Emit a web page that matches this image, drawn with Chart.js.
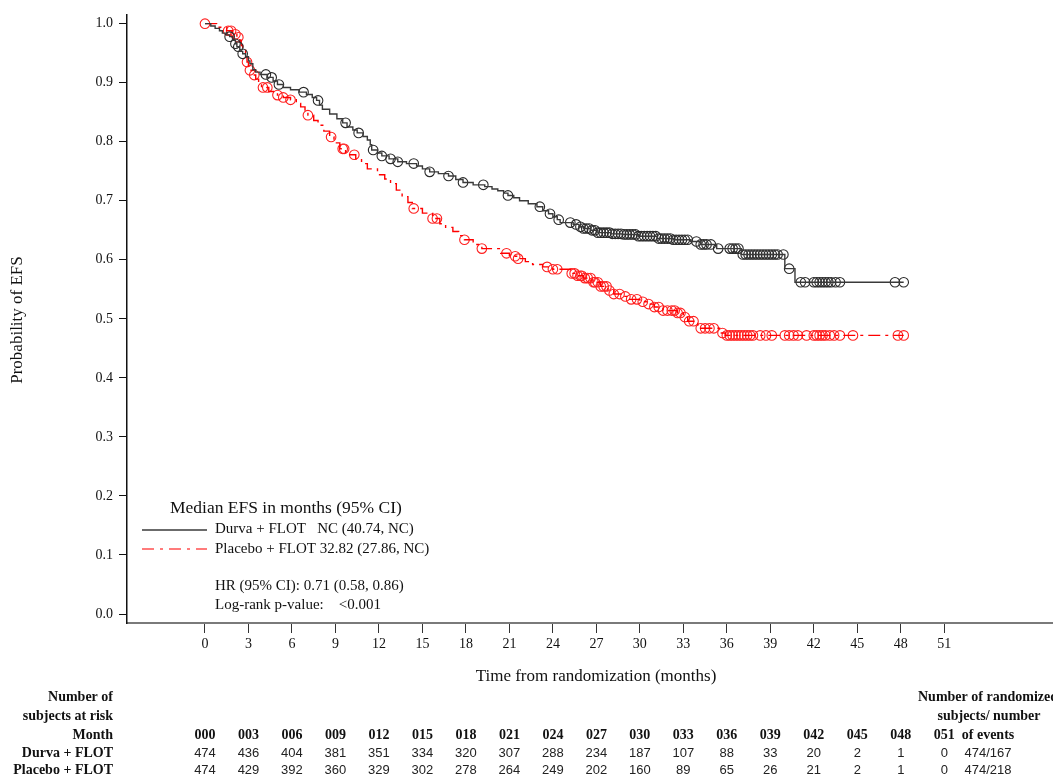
<!DOCTYPE html>
<html>
<head>
<meta charset="utf-8">
<title>EFS Kaplan-Meier</title>
<script src="https://cdn.jsdelivr.net/npm/chart.js@4.4.1/dist/chart.umd.min.js"></script>
<style>
  html, body { margin: 0; padding: 0; background: #fff; }
  #wrap { width: 1053px; height: 778px; }
</style>
</head>
<body>
<div id="wrap"><canvas id="efsChart" width="1053" height="778"></canvas></div>
<script>
// KM step points: month of event and survival after it
const durvaTimes = [0, 0.4, 0.7, 1.0, 1.2, 1.5, 1.7, 1.9, 2.1, 2.2, 2.4, 2.6, 2.8, 3.0, 3.1, 3.3, 3.5, 3.8, 4.3, 4.7,
  5.0, 5.4, 5.9, 6.5, 7.0, 7.4, 7.7, 7.9, 8.1, 8.6, 9.1, 9.5, 9.8, 10.2, 10.5, 10.9, 11.2, 11.4, 11.5, 11.9, 12.2,
  12.7, 13.3, 13.9, 14.6, 15.0, 15.5, 16.1, 16.8, 17.3, 17.8, 18.5, 19.3, 19.8, 20.2, 20.6, 20.9, 21.3, 21.7, 22.3,
  22.9, 23.3, 23.7, 24.0, 24.3, 24.5, 25.4, 25.8, 26.1, 26.6, 27.1, 28.0, 28.8, 29.9, 31.2, 32.3, 33.5, 34.2, 35.3,
  37.0, 40.0, 40.7, 48.2];
const durvaSurv = [1, 0.996, 0.992, 0.988, 0.984, 0.981, 0.978, 0.972, 0.966, 0.961, 0.953, 0.949, 0.944, 0.937,
  0.932, 0.922, 0.918, 0.914, 0.909, 0.903, 0.897, 0.892, 0.888, 0.884, 0.880, 0.875, 0.870, 0.862, 0.855, 0.847,
  0.839, 0.832, 0.825, 0.820, 0.815, 0.809, 0.803, 0.795, 0.786, 0.781, 0.776, 0.771, 0.766, 0.763, 0.759, 0.754,
  0.749, 0.746, 0.742, 0.736, 0.731, 0.727, 0.724, 0.720, 0.717, 0.713, 0.709, 0.705, 0.700, 0.695, 0.690, 0.683,
  0.678, 0.673, 0.668, 0.663, 0.660, 0.656, 0.653, 0.650, 0.646, 0.644, 0.643, 0.640, 0.636, 0.634, 0.631, 0.626,
  0.619, 0.609, 0.585, 0.562, 0.562];
const durvaCensor = [1.7, 2.1, 2.3, 2.6, 4.2, 4.6, 5.1, 6.8, 7.8, 9.7, 10.6, 11.6, 12.2, 12.8, 13.3, 14.4, 15.5, 16.8,
  17.8, 19.2, 20.9, 23.1, 23.8, 24.4, 25.2, 25.6, 25.9, 26.1, 26.3, 26.5, 26.7, 26.9, 27.1, 27.3, 27.5, 27.7, 27.9,
  28.1, 28.3, 28.5, 28.7, 28.9, 29.1, 29.3, 29.5, 29.7, 29.9, 30.1, 30.3, 30.5, 30.7, 30.9, 31.1, 31.3, 31.5, 31.7,
  31.9, 32.1, 32.3, 32.5, 32.7, 32.9, 33.1, 33.3, 33.9, 34.2, 34.4, 34.6, 34.9, 35.4, 36.2, 36.4, 36.6, 36.8, 37.1,
  37.3, 37.5, 37.7, 37.9, 38.1, 38.3, 38.5, 38.7, 38.9, 39.1, 39.3, 39.5, 39.9, 40.3, 41.1, 41.4, 42.0, 42.2, 42.4,
  42.6, 42.8, 43.0, 43.2, 43.5, 43.8, 47.6, 48.2];

const placeboTimes = [0, 0.8, 1.5, 1.9, 2.2, 2.4, 2.5, 2.6, 2.8, 2.9, 3.0, 3.1, 3.3, 3.5, 3.7, 3.9, 4.4, 5.0, 5.4, 5.9,
  6.3, 6.6, 6.9, 7.1, 7.5, 7.8, 8.2, 8.6, 8.9, 9.3, 9.7, 10.4, 10.8, 11.2, 11.9, 12.4, 12.8, 13.2, 13.6, 14.0, 14.3,
  15.0, 15.7, 16.2, 16.6, 17.1, 17.5, 17.9, 18.5, 19.1, 20.4, 21.0, 21.5, 22.1, 22.6, 23.3, 24.0, 25.2, 25.6, 26.1,
  26.7, 27.3, 27.8, 28.2, 28.7, 29.3, 30.0, 30.5, 31.0, 31.6, 32.6, 33.0, 33.3, 34.0, 34.2, 35.5, 35.9, 48.2];
const placeboSurv = [1, 0.994, 0.988, 0.982, 0.977, 0.972, 0.963, 0.955, 0.943, 0.935, 0.928, 0.921, 0.913, 0.906,
  0.899, 0.892, 0.885, 0.879, 0.875, 0.871, 0.865, 0.859, 0.852, 0.845, 0.836, 0.828, 0.818, 0.808, 0.798, 0.788,
  0.778, 0.771, 0.763, 0.754, 0.744, 0.737, 0.729, 0.718, 0.707, 0.697, 0.687, 0.679, 0.670, 0.661, 0.655, 0.648,
  0.641, 0.634, 0.626, 0.619, 0.611, 0.606, 0.602, 0.597, 0.592, 0.588, 0.584, 0.577, 0.573, 0.569, 0.562, 0.555,
  0.548, 0.542, 0.538, 0.533, 0.529, 0.525, 0.520, 0.514, 0.510, 0.503, 0.496, 0.488, 0.484, 0.476, 0.472, 0.472];
const placeboCensor = [0, 1.6, 1.8, 2.1, 2.3, 2.9, 3.1, 3.4, 4.0, 4.3, 5.0, 5.4, 5.9, 7.1, 8.7, 9.5, 9.6, 10.3, 14.4,
  15.7, 16.0, 17.9, 19.1, 20.8, 21.4, 21.6, 23.6, 24.0, 24.3, 25.3, 25.5, 25.7, 25.9, 26.0, 26.2, 26.4, 26.6, 26.8,
  26.9, 27.1, 27.3, 27.5, 27.7, 27.9, 28.2, 28.6, 29.0, 29.4, 29.8, 30.2, 30.6, 31.0, 31.3, 31.6, 31.9, 32.2, 32.4,
  32.6, 32.8, 33.1, 33.4, 33.7, 34.2, 34.5, 34.8, 35.1, 35.7, 36.0, 36.2, 36.4, 36.6, 36.8, 37.0, 37.2, 37.4, 37.6,
  37.8, 38.3, 38.7, 39.1, 40.0, 40.3, 40.6, 40.9, 41.5, 42.0, 42.2, 42.4, 42.6, 42.8, 43.1, 43.4, 43.8, 44.7, 47.8,
  48.2];

const xTickMonths = [0, 3, 6, 9, 12, 15, 18, 21, 24, 27, 30, 33, 36, 39, 42, 45, 48, 51];
const yTickValues = [0, 0.1, 0.2, 0.3, 0.4, 0.5, 0.6, 0.7, 0.8, 0.9, 1.0];

// number at risk table
const riskMonthLabels = ['000', '003', '006', '009', '012', '015', '018', '021', '024', '027', '030', '033', '036',
  '039', '042', '045', '048', '051'];
const durvaAtRisk = [474, 436, 404, 381, 351, 334, 320, 307, 288, 234, 187, 107, 88, 33, 20, 2, 1, 0];
const placeboAtRisk = [474, 429, 392, 360, 329, 302, 278, 264, 249, 202, 160, 89, 65, 26, 21, 2, 1, 0];
const eventCounts = ['474/167', '474/218'];

const BLACK = '#3a3a3a';
const RED = '#ff0000';
const SERIF = '"Liberation Serif", "Times New Roman", serif';

function stepPoints(times, surv) {
  return times.map((t, i) => ({ x: t, y: surv[i] }));
}

// survival value in effect at month t
function survAt(times, surv, t) {
  let s = surv[0];
  for (let i = 0; i < times.length; i++) {
    if (times[i] <= t) s = surv[i];
  }
  return s;
}

function censorPoints(censor, times, surv) {
  return censor.map(t => ({ x: t, y: survAt(times, surv, t) }));
}

const legendAndTable = {
  id: 'legendAndTable',
  afterDraw(chart) {
    const ctx = chart.ctx;
    const x = chart.scales.x;
    ctx.save();
    ctx.fillStyle = '#111';
    ctx.textBaseline = 'middle';

    // axis titles
    ctx.font = '17px ' + SERIF;
    ctx.textAlign = 'center';
    ctx.fillText('Time from randomization (months)', 596, 677);
    ctx.save();
    ctx.translate(18, 320);
    ctx.rotate(-Math.PI / 2);
    ctx.fillText('Probability of EFS', 0, 0);
    ctx.restore();

    // legend block
    ctx.textAlign = 'left';
    ctx.font = '17.5px ' + SERIF;
    ctx.fillText('Median EFS in months (95% CI)', 170, 508);
    ctx.font = '15px ' + SERIF;
    ctx.fillText('Durva + FLOT   NC (40.74, NC)', 215, 529);
    ctx.fillText('Placebo + FLOT 32.82 (27.86, NC)', 215, 549);
    ctx.fillText('HR (95% CI): 0.71 (0.58, 0.86)', 215, 586);
    ctx.fillText('Log-rank p-value:    <0.001', 215, 605);

    ctx.lineWidth = 1.5;
    ctx.strokeStyle = BLACK;
    ctx.beginPath();
    ctx.moveTo(142, 530);
    ctx.lineTo(207, 530);
    ctx.stroke();
    ctx.strokeStyle = '#ff5050';
    ctx.setLineDash([12, 6, 3, 6]);
    ctx.beginPath();
    ctx.moveTo(142, 549);
    ctx.lineTo(207, 549);
    ctx.stroke();
    ctx.setLineDash([]);

    // number at risk table
    ctx.font = 'bold 14px ' + SERIF;
    ctx.textAlign = 'right';
    ctx.fillText('Number of', 113, 697);
    ctx.fillText('subjects at risk', 113, 716);
    ctx.fillText('Month', 113, 735);
    ctx.fillText('Durva + FLOT', 113, 753);
    ctx.fillText('Placebo + FLOT', 113, 770);

    ctx.textAlign = 'center';
    ctx.fillText('Number of randomized', 988, 697);
    ctx.fillText('subjects/ number', 989, 716);

    riskMonthLabels.forEach((lab, i) => {
      ctx.fillText(lab, x.getPixelForValue(xTickMonths[i]), 735);
    });
    ctx.fillText('of events', 988, 735);

    ctx.fillStyle = '#222';
    ctx.font = '13px "Liberation Sans", sans-serif';
    durvaAtRisk.forEach((n, i) => {
      ctx.fillText(String(n), x.getPixelForValue(xTickMonths[i]), 753);
    });
    placeboAtRisk.forEach((n, i) => {
      ctx.fillText(String(n), x.getPixelForValue(xTickMonths[i]), 770);
    });
    ctx.fillText(eventCounts[0], 988, 753);
    ctx.fillText(eventCounts[1], 988, 770);
    ctx.restore();
  }
};

const ctx = document.getElementById('efsChart').getContext('2d');
new Chart(ctx, {
  type: 'line',
  data: {
    datasets: [
      {
        label: 'Durva + FLOT',
        data: stepPoints(durvaTimes, durvaSurv),
        stepped: true,
        borderColor: BLACK,
        borderWidth: 1.4,
        pointRadius: 0,
        fill: false,
        order: 1
      },
      {
        type: 'scatter',
        label: 'Durva censored',
        data: censorPoints(durvaCensor, durvaTimes, durvaSurv),
        showLine: false,
        pointStyle: 'circle',
        pointRadius: 4.8,
        pointBorderWidth: 1.1,
        pointBorderColor: '#2a2a2a',
        pointBackgroundColor: 'rgba(0,0,0,0)',
        order: 1
      },
      {
        label: 'Placebo + FLOT',
        data: stepPoints(placeboTimes, placeboSurv),
        stepped: true,
        borderColor: RED,
        borderWidth: 1.4,
        borderDash: [12, 5, 3, 5],
        pointRadius: 0,
        fill: false,
        order: 2
      },
      {
        type: 'scatter',
        label: 'Placebo censored',
        data: censorPoints(placeboCensor, placeboTimes, placeboSurv),
        showLine: false,
        pointStyle: 'circle',
        pointRadius: 4.8,
        pointBorderWidth: 1.1,
        pointBorderColor: '#ff2020',
        pointBackgroundColor: 'rgba(0,0,0,0)',
        order: 2
      }
    ]
  },
  options: {
    responsive: false,
    animation: false,
    devicePixelRatio: 1,
    layout: { autoPadding: false, padding: { top: 12, left: 0, right: 0, bottom: 0 } },
    plugins: {
      legend: { display: false },
      tooltip: { enabled: false }
    },
    scales: {
      x: {
        type: 'linear',
        min: -5.38,
        max: 58.5,
        afterBuildTicks: scale => { scale.ticks = xTickMonths.map(v => ({ value: v })); },
        afterFit: scale => { scale.height = 155; },
        ticks: {
          autoSkip: false,
          maxRotation: 0,
          padding: 3,
          color: '#111',
          font: { family: SERIF, size: 14 },
          callback: v => String(v)
        },
        grid: { drawOnChartArea: false, drawTicks: true, tickLength: 10, color: '#333', lineWidth: 1 },
        border: { display: true, color: '#7a7a7a', width: 2 }
      },
      y: {
        type: 'linear',
        min: -0.0152,
        max: 1.0157,
        afterBuildTicks: scale => { scale.ticks = yTickValues.map(v => ({ value: v })); },
        afterFit: scale => { scale.width = 127; },
        ticks: {
          autoSkip: false,
          padding: 6,
          color: '#111',
          font: { family: SERIF, size: 14 },
          callback: v => v.toFixed(1)
        },
        grid: { drawOnChartArea: false, drawTicks: true, tickLength: 8, color: '#111', lineWidth: 1 },
        border: { display: true, color: '#111', width: 1.5 }
      }
    }
  },
  plugins: [legendAndTable]
});
</script>
</body>
</html>
